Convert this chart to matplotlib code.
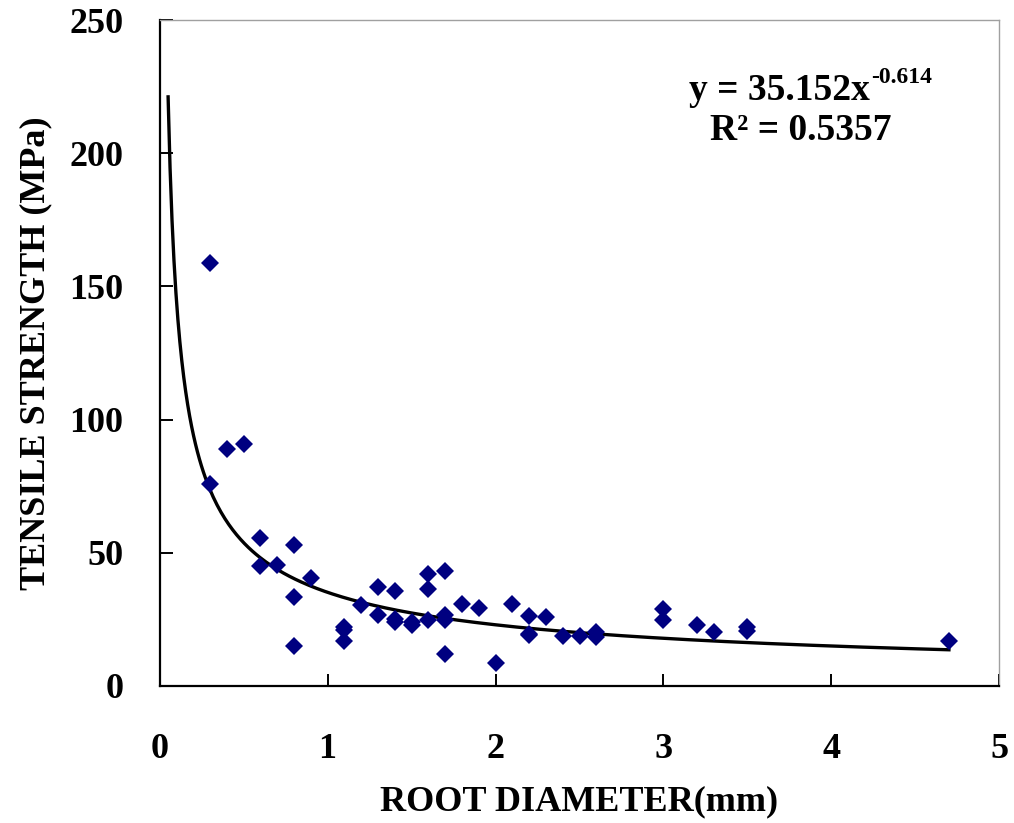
import numpy as np
import matplotlib.pyplot as plt

plt.rcParams['font.family'] = ['Liberation Serif', 'DejaVu Serif']
plt.rcParams['font.weight'] = 'bold'

# root diameter (mm) and tensile strength (MPa)
diameter = [0.3, 0.3, 0.4, 0.5, 0.6, 0.6, 0.7, 0.8, 0.8, 0.8, 0.9,
            1.1, 1.1, 1.1, 1.2, 1.3, 1.3, 1.4, 1.4, 1.4, 1.5, 1.5,
            1.6, 1.6, 1.6, 1.7, 1.7, 1.7, 1.7, 1.8, 1.9, 2.0, 2.1,
            2.2, 2.2, 2.2, 2.3, 2.4, 2.5, 2.6, 2.6,
            3.0, 3.0, 3.2, 3.3, 3.5, 3.5, 4.7]
strength = [159, 76, 89, 91, 55.5, 45, 45.5, 53, 33.3, 15, 40.5,
            22, 21, 17, 30.4, 37, 26.7, 35.7, 25, 24, 24, 23,
            42, 36.4, 24.8, 43, 26.6, 24.8, 12, 30.7, 29.4, 8.5, 30.7,
            26.4, 19.5, 19, 25.8, 18.8, 18.8, 20.3, 18.2,
            28.8, 24.8, 22.9, 20.4, 22, 20.8, 16.7]

# power-law fit shown on the chart
coef = 35.152
expo = -0.614
fit_x = np.linspace(0.05, 4.7, 400)
fit_y = coef * fit_x ** expo

fig = plt.figure(figsize=(10.14, 8.23), dpi=100)
ax = fig.add_axes([0.1575, 0.1665, 0.828, 0.809])

ax.plot(fit_x, fit_y, color='black', lw=2.4, zorder=2)
ax.plot(diameter, strength, 'D', color='#000080', markersize=9.5, zorder=3,
        markeredgewidth=0)

ax.set_xlim(0, 5)
ax.set_ylim(0, 250)
ax.set_xticks(range(0, 6))
ax.set_yticks(range(0, 251, 50))

for side in ['left', 'bottom']:
    ax.spines[side].set_color('black')
    ax.spines[side].set_linewidth(1.6)
for side in ['top', 'right']:
    ax.spines[side].set_color('#a0a0a0')
    ax.spines[side].set_linewidth(1.0)

ax.tick_params(axis='both', direction='in', length=9, width=1.4,
               labelsize=26)
ax.tick_params(axis='x', pad=34)
ax.tick_params(axis='y', pad=26)
for lab in ax.get_xticklabels() + ax.get_yticklabels():
    lab.set_fontweight('bold')

ax.set_xlabel('ROOT DIAMETER(mm)', fontsize=26, fontweight='bold', labelpad=14)
ax.set_ylabel('TENSILE STRENGTH (MPa)', fontsize=26, fontweight='bold', labelpad=12)

# trendline equation: base text plus a smaller raised exponent
ax.text(0.846, 0.895, 'y = 35.152x', transform=ax.transAxes,
        ha='right', va='center', fontsize=27, fontweight='bold')
ax.annotate('-0.614', xy=(0.846, 0.895), xycoords='axes fraction',
            xytext=(1, 9), textcoords='offset points',
            ha='left', va='center', fontsize=17, fontweight='bold')
ax.text(0.764, 0.835, 'R² = 0.5357', transform=ax.transAxes,
        ha='center', va='center', fontsize=27, fontweight='bold')

fig.savefig('out.png', dpi=100)
